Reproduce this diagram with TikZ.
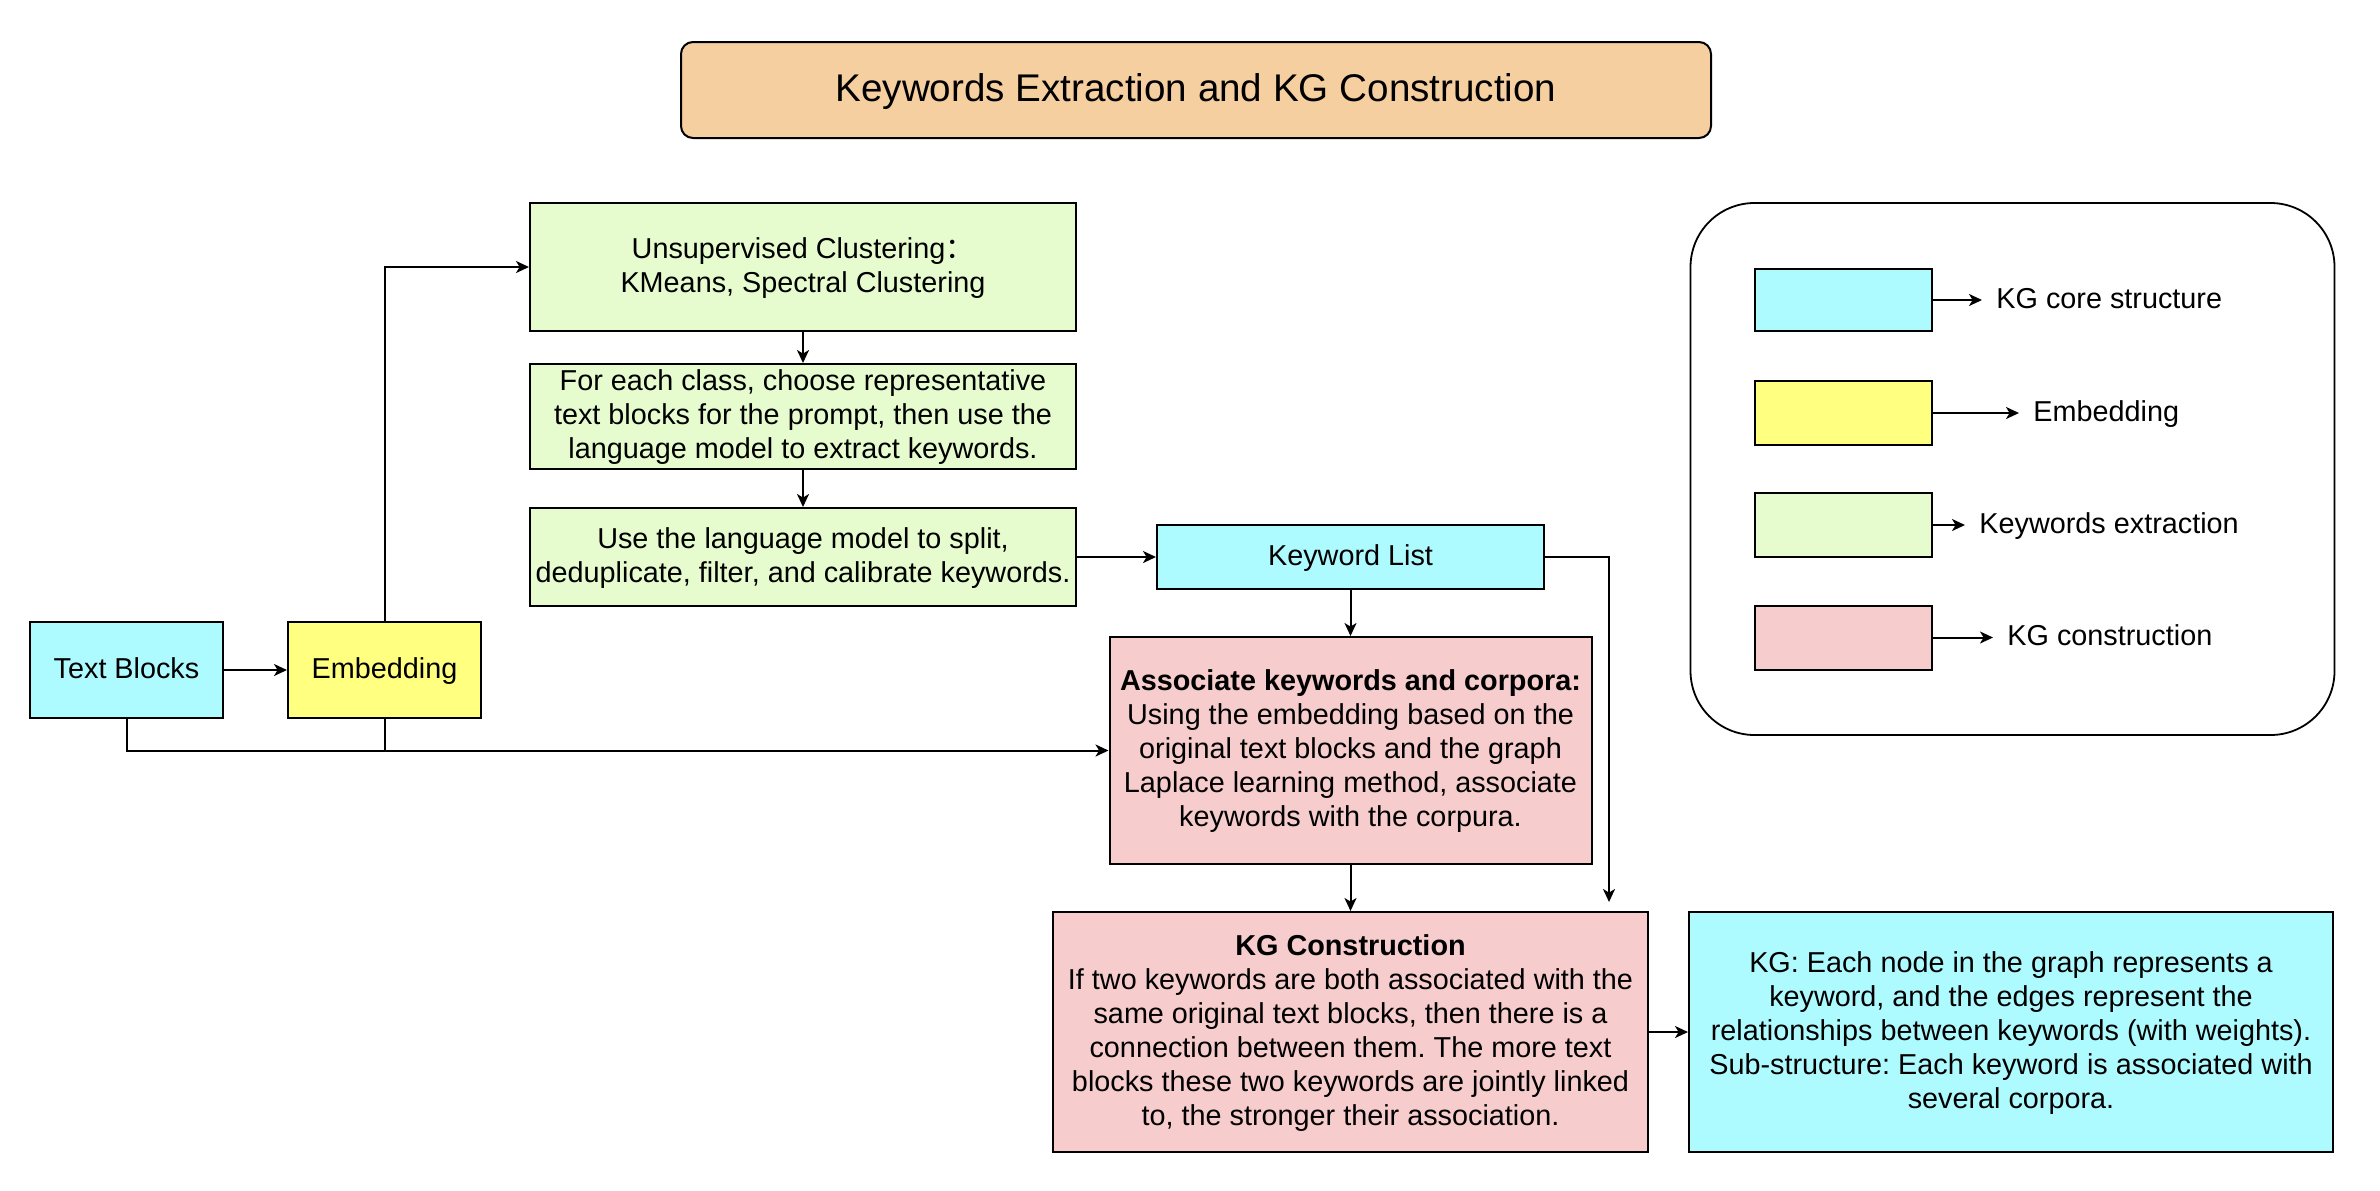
\documentclass[tikz,border=0pt]{standalone}
\usepackage{fontspec}
\setmainfont{Liberation Sans}
\newfontfamily\cjkfont{Noto Sans CJK SC}
\usetikzlibrary{arrows.meta}
\definecolor{ccyan}{HTML}{AEFBFF}
\definecolor{cyellow}{HTML}{FFFF80}
\definecolor{cgreen}{HTML}{E6FCCE}
\definecolor{cpink}{HTML}{F6CCCC}
\definecolor{cpeach}{HTML}{F6CFA0}
\newcommand{\sst}{\rule[-3.5pt]{0pt}{15pt}}
\newcommand{\tst}{\rule[-4.5pt]{0pt}{20.5pt}}
\begin{document}
\frenchspacing
\begin{tikzpicture}[x=0.5pt,y=-0.5pt,
  box/.style={draw=black, line width=1pt, rectangle, inner sep=0pt, align=center,
    font=\fontsize{14.4}{17}\selectfont},
  arr/.style={draw=black, line width=1pt, -{Stealth[length=6.5pt,width=6pt,inset=1.8pt]}},
  ln/.style={draw=black, line width=1pt},
  legtext/.style={anchor=west, inner xsep=7pt, inner ysep=0pt, font=\fontsize{14.4}{17}\selectfont}
]
\fill[white] (0,0) rectangle (2380,1190);
\useasboundingbox (0,0) rectangle (2380,1190);

% title
\node[box, fill=cpeach, rounded corners=6pt, minimum width=515pt, minimum height=48pt,
  font=\fontsize{19.3}{23}\selectfont] (title) at (1196,90) {\tst Keywords Extraction and KG Construction};

% left column
\node[box, fill=ccyan, minimum width=96.5pt, minimum height=48pt] (tb) at (126.5,670) {\sst Text Blocks};
\node[box, fill=cyellow, minimum width=96.5pt, minimum height=48pt] (emb) at (384.5,670) {\sst Embedding};

% green boxes
\node[box, fill=cgreen, minimum width=273pt, minimum height=64pt] (uc) at (803,267)
  {\sst Unsupervised Clustering{\cjkfont ：}\\KMeans, Spectral Clustering\sst};
\node[box, fill=cgreen, minimum width=273pt, minimum height=52.5pt] (fe) at (803,416.5)
  {\sst For each class, choose representative\\text blocks for the prompt, then use the\\language model to extract keywords.\sst};
\node[box, fill=cgreen, minimum width=273pt, minimum height=49pt] (ul) at (803,557)
  {\sst Use the language model to split,\\deduplicate, filter, and calibrate keywords.\sst};

% keyword list
\node[box, fill=ccyan, minimum width=193.5pt, minimum height=32pt] (kl) at (1350.5,557) {\sst Keyword List};

% associate
\node[box, fill=cpink, minimum width=241pt, minimum height=113.5pt] (as) at (1350.5,750.5)
  {\sst\textbf{Associate keywords and corpora:}\\Using the embedding based on the\\original text blocks and the graph\\Laplace learning method, associate\\keywords with the corpura.\sst};

% KG construction
\node[box, fill=cpink, minimum width=297.5pt, minimum height=120pt] (kgc) at (1350.5,1032)
  {\sst\textbf{KG Construction}\\If two keywords are both associated with the\\same original text blocks, then there is a\\connection between them. The more text\\blocks these two keywords are jointly linked\\to, the stronger their association.\sst};

% KG
\node[box, fill=ccyan, minimum width=322pt, minimum height=120pt] (kg) at (2011,1032)
  {\sst KG: Each node in the graph represents a\\keyword, and the edges represent the\\relationships between keywords (with weights).\\Sub-structure: Each keyword is associated with\\several corpora.\sst};

% legend
\node[draw=black, line width=0.9pt, rounded corners=32pt, minimum width=322pt, minimum height=266pt, inner sep=0pt] (legend) at (2012.5,469) {};
\node[box, fill=ccyan, minimum width=88.5pt, minimum height=31pt] (sw1) at (1843.5,300) {};
\node[box, fill=cyellow, minimum width=88.5pt, minimum height=32pt] (sw2) at (1843.5,413) {};
\node[box, fill=cgreen, minimum width=88.5pt, minimum height=32pt] (sw3) at (1843.5,525) {};
\node[box, fill=cpink, minimum width=88.5pt, minimum height=32pt] (sw4) at (1843.5,637.5) {};
\node[legtext] (lt1) at (1982,300) {\sst KG core structure};
\node[legtext] (lt2) at (2019,413) {\sst Embedding};
\node[legtext] (lt3) at (1965,525) {\sst Keywords extraction};
\node[legtext] (lt4) at (1993,637.5) {\sst KG construction};
\draw[arr] (sw1.east) -- (lt1.west);
\draw[arr] (sw2.east) -- (lt2.west);
\draw[arr] (sw3.east) -- (lt3.west);
\draw[arr] (sw4.east) -- (lt4.west);

% connectors
\draw[arr] (tb) -- (emb);
\draw[arr] (emb.north) |- (uc.west);
\draw[arr] (uc) -- (fe);
\draw[arr] (fe) -- (ul);
\draw[arr] (ul) -- (kl);
\draw[arr] (kl.south) -- (kl.south |- as.north);
\coordinate (klturn) at (1609,557);
\draw[arr, shorten >=4.5pt] (kl.east) -- (klturn) -- (klturn |- kgc.north);
\draw[arr] (tb.south) |- (as.west);
\draw[ln] (emb.south) -- (emb.south |- as.west);
\draw[arr] (as.south) -- (as.south |- kgc.north);
\draw[arr] (kgc) -- (kg);
\end{tikzpicture}
\end{document}
